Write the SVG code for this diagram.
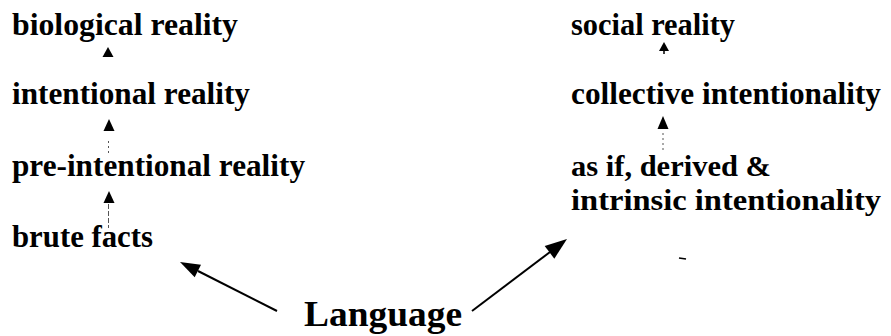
<svg xmlns="http://www.w3.org/2000/svg" width="891" height="336" viewBox="0 0 891 336">
<defs>
<style>
.t{font-family:"Liberation Serif","DejaVu Serif",serif;font-weight:bold;font-size:31px;fill:#000}
.t2{font-size:30px}
.big{font-size:36px}
.dot{stroke:#555;stroke-width:1;stroke-dasharray:2 3;fill:none}
.ln{stroke:#000;stroke-width:2;fill:none}
.hd{fill:#000}
</style>
</defs>
<rect width="891" height="336" fill="#fff"/>
<g id="biological"><text class="t" x="12" y="35" textLength="226" lengthAdjust="spacingAndGlyphs">biological reality</text></g>
<g id="intentional"><text class="t" x="12" y="104" textLength="238" lengthAdjust="spacingAndGlyphs">intentional reality</text></g>
<g id="preintentional"><text class="t" x="12" y="176" textLength="293" lengthAdjust="spacingAndGlyphs">pre-intentional reality</text></g>
<g id="brute"><text class="t" x="12" y="247" textLength="141" lengthAdjust="spacingAndGlyphs">brute facts</text></g>
<g id="social"><text class="t" x="571" y="35" textLength="164" lengthAdjust="spacingAndGlyphs">social reality</text></g>
<g id="collective"><text class="t" x="571" y="104" textLength="310" lengthAdjust="spacingAndGlyphs">collective intentionality</text></g>
<g id="asif"><text class="t t2" x="571" y="176" textLength="200" lengthAdjust="spacingAndGlyphs">as if, derived &amp;</text><text class="t t2" x="571" y="210" textLength="310" lengthAdjust="spacingAndGlyphs">intrinsic intentionality</text></g>
<g id="language"><text class="t big" x="304" y="326" textLength="158" lengthAdjust="spacingAndGlyphs">Language</text></g>
<g id="connectors">
<path class="hd" d="M108 47 L102.5 57 L113.5 57 Z"/>
<path class="hd" d="M109 119 L103.5 131 L114.5 131 Z"/>
<line class="dot" x1="108.5" y1="141" x2="108.5" y2="154"/>
<path class="hd" d="M109 191 L103.5 203 L114.5 203 Z"/>
<line class="dot" x1="108.5" y1="204" x2="108.5" y2="228" style="stroke-dasharray:5 2"/>
<path class="hd" d="M664 42 L659 51 L669 51 Z"/>
<line class="ln" x1="664" y1="50" x2="664" y2="54" style="stroke-width:1.5"/>
<path class="hd" d="M663 116 L657.5 129 L668.5 129 Z"/>
<line class="dot" x1="663" y1="133" x2="663" y2="153"/>
<line class="ln" x1="277" y1="311" x2="198" y2="271"/>
<path class="hd" d="M180 262 L201 264.7 L194.7 277.3 Z"/>
<line class="ln" x1="472" y1="311" x2="550" y2="252"/>
<path class="hd" d="M567 239 L554.3 258.7 L544.7 245.9 Z"/>
<line class="ln" x1="679" y1="258" x2="686" y2="259" style="stroke-width:1.5"/>
</g>
</svg>
